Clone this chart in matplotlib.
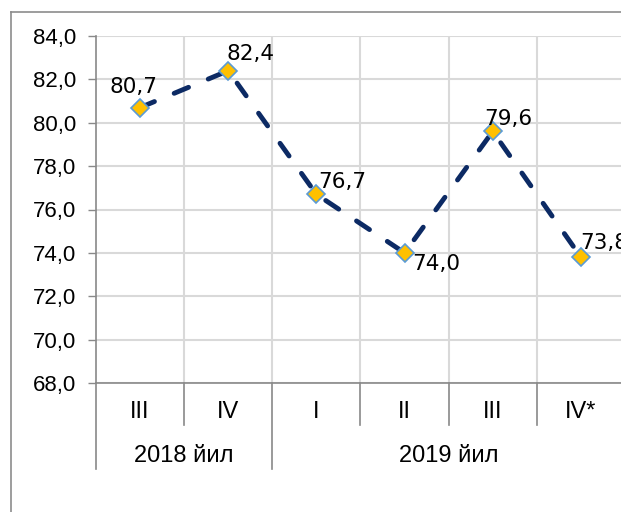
import matplotlib
matplotlib.use('Agg')
import matplotlib.pyplot as plt
from matplotlib.lines import Line2D
from matplotlib import ticker

quarters = ['III', 'IV', 'I', 'II', 'III', 'IV*']
years = ['2018 йил', '2019 йил']
year_sizes = [2, 4]
values = [80.7, 82.4, 76.7, 74.0, 79.6, 73.8]
value_labels = ['80,7', '82,4', '76,7', '74,0', '79,6', '73,8']
# label offsets from the point, in points
label_offsets = [(-5, 15), (16, 12), (19, 9), (23, -8), (11, 9), (17, 10)]

axis_font = ['Liberation Sans', 'DejaVu Sans']
grey = '#898989'

fig = plt.figure(figsize=(6.21, 5.12), dpi=100)
ax = fig.add_axes([96 / 621, 1 - 383 / 512, 529 / 621, 347 / 512])

x = list(range(len(values)))
ax.plot(x, values, color='#0c2a64', lw=3.5, dashes=(3.2, 4.4),
        dash_capstyle='round', zorder=3)
ax.plot(x, values, ls='none', marker='D', ms=9, mfc='#FFC000',
        mec='#5B9BD5', mew=1.2, zorder=4)

for xi, v, lab, off in zip(x, values, value_labels, label_offsets):
    ax.annotate(lab, (xi, v), xytext=off, textcoords='offset points',
                ha='center', va='center', fontsize=15.5,
                family='DejaVu Sans', zorder=5)

ax.set_xlim(-0.5, len(values) - 0.5)
ax.set_ylim(68, 84)
ax.set_yticks(range(68, 85, 2))
ax.yaxis.set_major_formatter(ticker.FuncFormatter(
    lambda v, p: f'{v:.1f}'.replace('.', ',')))
for t in ax.get_yticklabels():
    t.set_family(axis_font)
ax.tick_params(axis='y', direction='out', length=6, width=1, color=grey,
               labelsize=16, pad=8)

ax.set_xticks([])
bounds = [i + 0.5 for i in range(len(values) - 1)]
ax.set_xticks(bounds, minor=True)
ax.tick_params(axis='x', which='minor', length=0)
ax.grid(True, axis='y', color='#d9d9d9', lw=1.5, zorder=0)
ax.grid(True, axis='x', which='minor', color='#d9d9d9', lw=1.5, zorder=0)
ax.set_axisbelow(True)

for s in ['top', 'right']:
    ax.spines[s].set_visible(False)
for s in ['left', 'bottom']:
    ax.spines[s].set_color(grey)
    ax.spines[s].set_linewidth(1.2)

# two-level category axis
tr = ax.get_xaxis_transform()
short_y = (383 - 425) / 347
long_y = (383 - 469) / 347
q_y = (383 - 412) / 347
yr_y = (383 - 456) / 347

for i, q in enumerate(quarters):
    ax.text(i, q_y, q, transform=tr, ha='center', va='center',
            fontsize=17, family=axis_font)

group_edges = [-0.5]
for n in year_sizes:
    group_edges.append(group_edges[-1] + n)
for i in range(len(values) + 1):
    xb = i - 0.5
    bottom = long_y if xb in group_edges else short_y
    ax.add_line(Line2D([xb, xb], [0, bottom], transform=tr, color=grey,
                       lw=1.2, clip_on=False))
for yr, a, b in zip(years, group_edges[:-1], group_edges[1:]):
    ax.text((a + b) / 2, yr_y, yr, transform=tr, ha='center', va='center',
            fontsize=17, family=axis_font)

# outer chart border (cropped at right and bottom)
fig.add_artist(Line2D([11 / 621, 11 / 621], [0, 1 - 12 / 512],
                      transform=fig.transFigure, color='#8c8c8c', lw=1.2))
fig.add_artist(Line2D([11 / 621, 1], [1 - 12 / 512, 1 - 12 / 512],
                      transform=fig.transFigure, color='#8c8c8c', lw=1.2))

fig.savefig('out.png', dpi=100)
